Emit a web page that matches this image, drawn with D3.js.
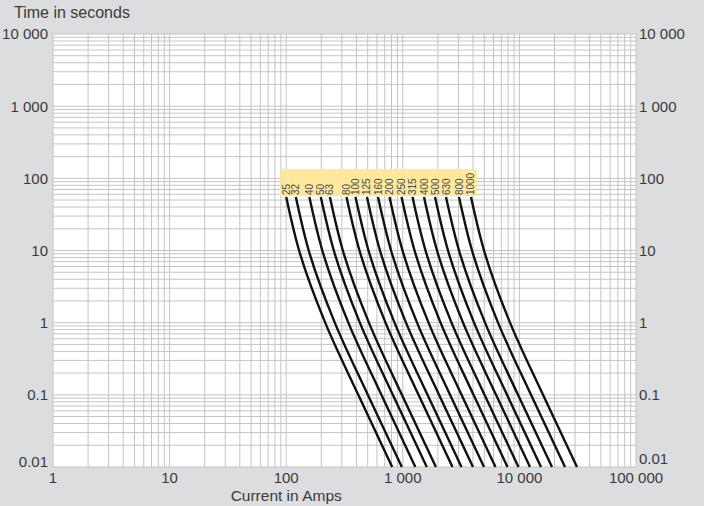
<!DOCTYPE html>
<html><head><meta charset="utf-8">
<script src="https://cdn.jsdelivr.net/npm/d3@7"></script>
<style>
body{margin:0;background:#dcdddf;}
svg{display:block;font-family:"Liberation Sans",Arial,Helvetica,sans-serif;}
</style>
</head><body>
<svg id="c" width="704" height="506"></svg>
<script>
// ---- data ----
const ratings = ["25","32","40","50","63","80","100","125","160","200","250","315","400","500","630","800","1000"];
const times = [55, 10, 1, 0.1, 0.01];
// current (A) reached by each fuse curve at each time above
const iAt55s  = [100, 121, 158, 198, 237, 329, 393, 493, 613, 769, 975, 1211, 1520, 1889, 2347, 3034, 3845];
const iAt10s  = [129, 156, 204, 256, 306, 425, 508, 637, 793, 994, 1261, 1566, 1965, 2442, 3035, 3923, 4972];
const iAt1s   = [216, 261, 341, 428, 512, 711, 849, 1065, 1325, 1662, 2107, 2617, 3285, 4082, 5072, 6556, 8309];
const iAt01s  = [415, 501, 655, 821, 982, 1364, 1629, 2044, 2541, 3188, 4041, 5020, 6300, 7830, 9728, 12576, 15938];
const iAt001s = [811, 981, 1281, 1606, 1922, 2668, 3187, 3998, 4971, 6237, 7907, 9821, 12327, 15320, 19034, 24606, 31183];
const xTicks = [1, 10, 100, 1000, 10000, 100000];
const xTickLabels = ["1", "10", "100", "1 000", "10 000", "100 000"];
const yTicks = [10000, 1000, 100, 10, 1, 0.1, 0.01];
const yTickLabels = ["10 000", "1 000", "100", "10", "1", "0.1", "0.01"];

// ---- chart ----
const svg = d3.select("#c");
const x = d3.scaleLog().domain([1, 100000]).range([53, 636]);
const y = d3.scaleLog().domain([10000, 0.01]).range([34, 467]);

svg.append("rect").attr("x", x.range()[0]).attr("y", y.range()[0])
  .attr("width", x.range()[1] - x.range()[0]).attr("height", y.range()[1] - y.range()[0])
  .attr("fill", "#ffffff");

const grid = svg.append("g").attr("stroke", "#c4c4c6").attr("stroke-width", 1);
grid.selectAll("line.v").data(x.ticks()).join("line")
  .attr("x1", d => x(d)).attr("x2", d => x(d))
  .attr("y1", y.range()[0]).attr("y2", y.range()[1]);
grid.selectAll("line.h").data(y.ticks()).join("line")
  .attr("y1", d => y(d)).attr("y2", d => y(d))
  .attr("x1", x.range()[0]).attr("x2", x.range()[1]);

const txt = "#3a3a3a";
// y labels left & right
yTicks.forEach((t, i) => {
  const offL = (t === 0.01) ? -5 : 0;
  const offR = (t === 0.01) ? -8 : 0;
  svg.append("text").attr("x", x.range()[0] - 5).attr("y", y(t) + offL).attr("dy", "0.36em")
    .attr("text-anchor", "end").attr("font-size", 15).attr("fill", txt).text(yTickLabels[i]);
  svg.append("text").attr("x", x.range()[1] + 3).attr("y", y(t) + offR).attr("dy", "0.36em")
    .attr("text-anchor", "start").attr("font-size", 15).attr("fill", txt).text(yTickLabels[i]);
});
// x labels
xTicks.forEach((v, i) => {
  svg.append("text").attr("x", x(v)).attr("y", y.range()[1] + 16)
    .attr("text-anchor", "middle").attr("font-size", 15).attr("fill", txt).text(xTickLabels[i]);
});
svg.append("text").attr("x", x(100)).attr("y", 501).attr("text-anchor", "middle")
  .attr("font-size", 15.5).attr("fill", txt).text("Current in Amps");
svg.append("text").attr("x", 14).attr("y", 18).attr("text-anchor", "start")
  .attr("font-size", 16).attr("fill", txt).text("Time in seconds");

// label box
const topY = y(times[0]);
const bx0 = x(d3.min(iAt55s)) - 6, bx1 = x(d3.max(iAt55s)) + 6;
svg.append("rect").attr("x", bx0).attr("y", topY - 28).attr("width", bx1 - bx0).attr("height", 27)
  .attr("fill", "#fde89b");
ratings.forEach((r, i) => {
  svg.append("text")
    .attr("transform", `translate(${x(iAt55s[i])},${topY - 2}) rotate(-90)`)
    .attr("dy", "0.35em").attr("font-size", 10).attr("fill", "#4a4a4a")
    .attr("text-anchor", "start").text(r);
});

// curves
const line = d3.line().x(d => x(d[0])).y(d => y(d[1])).curve(d3.curveMonotoneY);
const series = ratings.map((r, i) => [iAt55s[i], iAt10s[i], iAt1s[i], iAt01s[i], iAt001s[i]].map((c, k) => [c, times[k]]));
svg.append("g").selectAll("path").data(series).join("path")
  .attr("d", line).attr("fill", "none").attr("stroke", "#111").attr("stroke-width", 2.4);
</script>
</body></html>
